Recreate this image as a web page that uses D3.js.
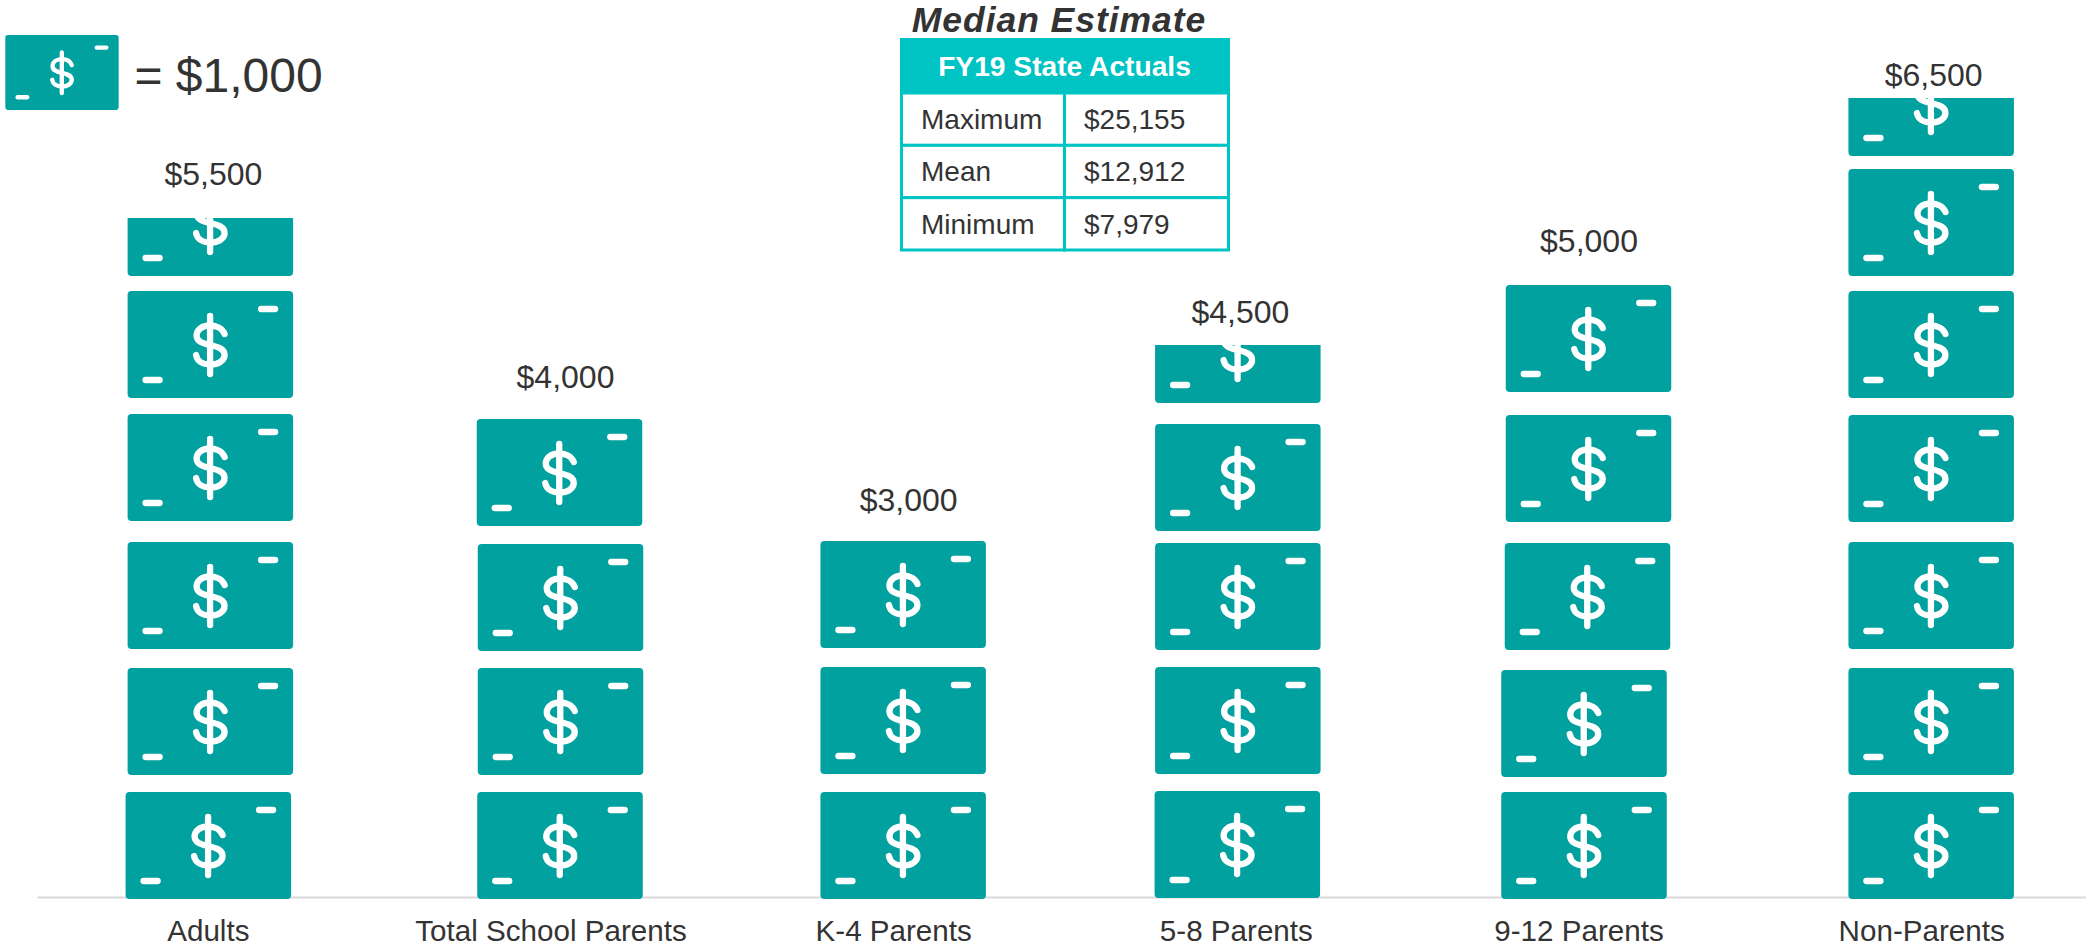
<!DOCTYPE html>
<html>
<head>
<meta charset="utf-8">
<script src="https://cdn.jsdelivr.net/npm/d3@7"></script>
<style>
  html, body { margin: 0; padding: 0; background: #fff; }
  svg { display: block; }
  text { font-family: "Liberation Sans", Arial, sans-serif; fill: #333; }
</style>
</head>
<body>
<svg id="chart" width="2086" height="948"></svg>
<script>
// ---- data ----
const categories = ["Adults", "Total School Parents", "K-4 Parents", "5-8 Parents", "9-12 Parents", "Non-Parents"];
const medianEstimates = [5500, 4000, 3000, 4500, 5000, 6500];
const unitValue = 1000;
const chartTitle = "Median Estimate";
const tableHeader = "FY19 State Actuals";
const tableLabels = ["Maximum", "Mean", "Minimum"];
const tableValues = [25155, 12912, 7979];

// ---- layout ----
const W = 2086, H = 948;
const ICON_W = 165.5, ICON_H = 107;
const TEAL = "#00a19e", TABLE_TEAL = "#00c3c3";
const fmt = d3.format("$,");

// hand-placement drift of the stacked icons in the original, in px, per column / per icon
const iconDx = [[0,2,2,2,2,2],[9,9.5,9.5,8.5],[9.5,9.5,9.5],[1,1.5,1.5,1.5,1.5],[5,5,8.5,9.5,9.5],[9.5,9.5,9.5,9.5,9.5,9.5,9.5]];
const iconDy = [[0,1,0,-3,-1,2],[0,1,2,2],[0,0,-1],[-1,0,1,7,4],[0,3,1,-2,-7],[0,1,0,-2,-1,2,7]];
const labelDx = [5, 14.5, 15, 4, 10, 12];
const labelGap = [33, 31, 30, 22, 33, 12];

const x = d3.scaleBand().domain(categories).range([37, 2093]);
const y = d3.scaleLinear().domain([0, unitValue]).range([899, 774]);

const svg = d3.select("#chart").attr("viewBox", [0, 0, W, H]);

// one banknote, drawn in a 165.5 x 107 box
function drawNote(g) {
  g.append("rect").attr("width", ICON_W).attr("height", ICON_H).attr("rx", 4).attr("fill", TEAL);
  const ink = g.append("g").attr("fill", "none").attr("stroke", "#fff").attr("stroke-width", 6.3).attr("stroke-linecap", "round");
  ink.append("path").attr("d", "M133.5,18H147.5");
  ink.append("path").attr("d", "M18,89H32");
  ink.append("path").attr("d", "M82.5,25V83");
  ink.append("path").attr("d", "M97,43C95,37.5 89,34.5 82.5,34.5C74,34.5 69,39 69,44.5C69,50 74,52 82.5,54C91,56 97,58 97,64C97,69.5 91,73.5 82.5,73.5C75,73.5 69.5,70 68.5,64");
}

// axis
const axisG = svg.append("g").attr("transform", "translate(0,897)")
  .call(d3.axisBottom(x).tickSize(0).tickPadding(23));
axisG.select(".domain").attr("stroke", "#d9d9d9").attr("stroke-width", 2);
axisG.selectAll("text").style("font-size", "29.6px").style("font-family", '"Liberation Sans", Arial, sans-serif').attr("fill", "#333");

// stacks
const defs = svg.append("defs");
const stacks = svg.append("g").selectAll("g").data(categories).join("g");
stacks.each(function (cat, c) {
  const v = medianEstimates[c];
  const n = Math.ceil(v / unitValue);
  let visibleTop = Infinity;
  for (let i = 0; i < n; i++) {
    const frac = Math.min(1, v / unitValue - i);
    const cx = x(cat) + x.bandwidth() / 2 + iconDx[c][i];
    const bottom = y(i * unitValue) + iconDy[c][i];
    const top = bottom - ICON_H;
    const note = d3.select(this).append("g").attr("transform", `translate(${cx - ICON_W / 2},${top})`);
    if (frac < 1) {
      const shown = ICON_H * frac + 4.5;
      const id = `clip-${c}-${i}`;
      defs.append("clipPath").attr("id", id).append("rect")
        .attr("x", -1).attr("y", ICON_H - shown).attr("width", ICON_W + 2).attr("height", shown);
      note.attr("clip-path", `url(#${id})`);
      visibleTop = Math.min(visibleTop, bottom - shown);
    } else {
      visibleTop = Math.min(visibleTop, top);
    }
    note.call(drawNote);
  }
  d3.select(this).append("text")
    .attr("x", x(cat) + x.bandwidth() / 2 + labelDx[c])
    .attr("y", visibleTop - labelGap[c])
    .attr("text-anchor", "middle")
    .attr("font-size", 32)
    .text(fmt(v));
});

// legend
const legend = svg.append("g");
legend.append("g").attr("transform", "translate(5.3,35) scale(0.685,0.70)").call(drawNote);
legend.append("text").attr("x", 134.5).attr("y", 92).attr("font-size", 48).text("= " + fmt(unitValue));

// title + table
svg.append("text").attr("x", 1059).attr("y", 32.2).attr("text-anchor", "middle")
  .attr("font-size", 35.5).attr("letter-spacing", 0.95).attr("font-weight", "bold").attr("font-style", "italic").text(chartTitle);

const tX = d3.scaleOrdinal().domain(["l", "m", "r"]).range([901.5, 1064.5, 1228.5]);
const tY = d3.scaleBand().domain(d3.range(tableLabels.length)).range([93, 250]);
const table = svg.append("g");
table.append("rect").attr("x", tX("l")).attr("y", 39.5).attr("width", tX("r") - tX("l")).attr("height", 53.5)
  .attr("fill", TABLE_TEAL).attr("stroke", TABLE_TEAL).attr("stroke-width", 3);
table.append("text").attr("x", tX("m")).attr("y", 76).attr("text-anchor", "middle")
  .attr("font-size", 28.2).attr("font-weight", "bold").style("fill", "#fff").text(tableHeader);
const rows = table.selectAll("g.row").data(tableLabels).join("g").attr("class", "row");
rows.append("rect").attr("x", tX("l")).attr("y", (d, i) => tY(i)).attr("width", tX("m") - tX("l")).attr("height", tY.bandwidth())
  .attr("fill", "#fff").attr("stroke", TABLE_TEAL).attr("stroke-width", 3);
rows.append("rect").attr("x", tX("m")).attr("y", (d, i) => tY(i)).attr("width", tX("r") - tX("m")).attr("height", tY.bandwidth())
  .attr("fill", "#fff").attr("stroke", TABLE_TEAL).attr("stroke-width", 3);
rows.append("text").attr("x", 921).attr("y", (d, i) => tY(i) + 36).attr("font-size", 28).text(d => d);
rows.append("text").attr("x", 1084).attr("y", (d, i) => tY(i) + 36).attr("font-size", 28).text((d, i) => fmt(tableValues[i]));
</script>
</body>
</html>
